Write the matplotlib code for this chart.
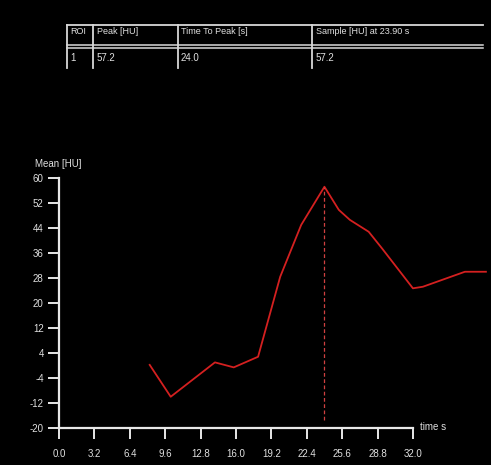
import matplotlib
matplotlib.use("Agg")
import matplotlib.pyplot as plt

plt.rcParams['font.family'] = ['Liberation Sans', 'DejaVu Sans']

# curve
time_s = [8.2, 10.1, 14.1, 15.8, 18.0, 20.0, 21.9, 24.0, 25.3, 26.3, 28.0, 29.2, 32.0, 32.9, 36.7, 38.6]
mean_hu = [0.2, -10.0, 1.0, -0.6, 2.8, 28.4, 45.0, 57.2, 49.8, 46.6, 42.8, 37.5, 24.7, 25.2, 30.0, 30.0]

x_ticks = [0.0, 3.2, 6.4, 9.6, 12.8, 16.0, 19.2, 22.4, 25.6, 28.8, 32.0]
y_ticks = [60, 52, 44, 36, 28, 20, 12, 4, -4, -12, -20]

peak_time = 24.0
peak_value = 57.2

table_header = ["ROI", "Peak [HU]", "Time To Peak [s]", "Sample [HU] at 23.90 s"]
table_row = ["1", "57.2", "24.0", "57.2"]

W, H = 491, 465
fig = plt.figure(figsize=(W / 100, H / 100), dpi=100, facecolor='black')

# main axes, placed in pixels
ax = fig.add_axes([59 / W, 37 / H, 432 / W, 250 / H])
ax.set_facecolor('black')
ax.set_xlim(0, 39.06)
ax.set_ylim(-20, 60)
for s in ['top', 'right']:
    ax.spines[s].set_visible(False)
for s in ['left', 'bottom']:
    ax.spines[s].set_color('#e8e8e8')
    ax.spines[s].set_linewidth(1.6)
ax.spines['bottom'].set_bounds(0, 32.0)
ax.spines['left'].set_bounds(-20, 60)

ax.set_xticks(x_ticks)
ax.set_xticklabels([f"{t:.1f}" for t in x_ticks])
ax.set_yticks(y_ticks)
ax.set_yticklabels([str(v) for v in y_ticks])
ax.tick_params(colors='#e8e8e8', labelcolor='#e0e0e0', labelsize=7,
               length=8, width=1.4, direction='out', pad=3)
ax.tick_params(axis='x', pad=7)

ax.plot(time_s, mean_hu, color='#d42020', lw=1.3, solid_joinstyle='round')
ax.plot([peak_time, peak_time], [-17.5, peak_value], color='#d04040',
        lw=0.9, ls=(0, (3, 2)))

# overlay in pixel coordinates for table and labels
ov = fig.add_axes([0, 0, 1, 1])
ov.set_xlim(0, W)
ov.set_ylim(H, 0)
ov.axis('off')
ov.patch.set_alpha(0)

lc = '#d8d8d8'
ov.plot([67, 483], [25, 25], color=lc, lw=1.3)
ov.plot([67, 483], [45, 45], color=lc, lw=1.1)
ov.plot([67, 483], [48, 48], color=lc, lw=1.1)
for xv in [67, 93, 178, 312]:
    ov.plot([xv, xv], [25, 68], color=lc, lw=1.3)

col_x = [70, 97, 181, 316]
for xx, head, val in zip(col_x, table_header, table_row):
    ov.text(xx, 32, head, color='#e0e0e0', fontsize=6.5, va='center', ha='left')
    ov.text(xx, 58, val, color='#e0e0e0', fontsize=7, va='center', ha='left')

ov.text(35, 164, "Mean [HU]", color='#e0e0e0', fontsize=7, va='center', ha='left')
ov.text(420, 427, "time s", color='#e0e0e0', fontsize=7, va='center', ha='left')

fig.savefig("out.png", dpi=100, facecolor='black')
